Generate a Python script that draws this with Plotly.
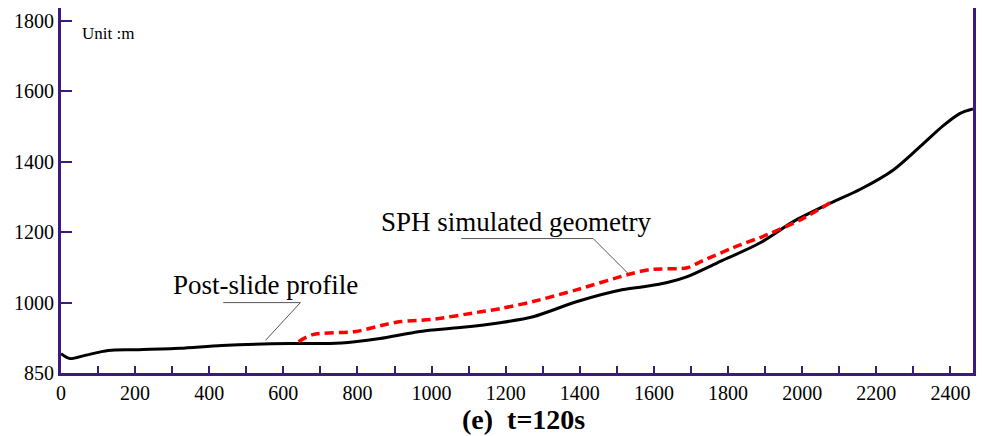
import plotly.graph_objects as go

# Post-slide profile (black solid)
post_x = [0, 24, 65, 127, 200, 321, 434, 618, 726, 793, 861, 969, 1077, 1185, 1274, 1393,
          1517, 1571, 1636, 1690, 1771, 1887, 1976, 2067, 2157, 2246, 2318, 2380, 2425, 2461]
post_y = [855, 841, 850, 864, 866, 870, 878, 884, 884, 889, 898, 918, 929, 943, 960, 1003,
          1037, 1045, 1057, 1074, 1113, 1170, 1230, 1278, 1322, 1377, 1443, 1502, 1537, 1550]

# SPH simulated geometry (red dashed)
sph_x = [641, 679, 795, 876, 917, 998, 1133, 1185, 1274, 1393, 1528, 1590, 1690, 1725, 1814, 1906, 1995, 2076]
sph_y = [889, 909, 918, 938, 946, 952, 974, 983, 1003, 1037, 1079, 1094, 1099, 1116, 1156, 1193, 1235, 1284]

x_tickvals = [0, 200, 400, 600, 800, 1000, 1200, 1400, 1600, 1800, 2000, 2200, 2400]
y_tickvals = [800, 1000, 1200, 1400, 1600, 1800]
y_ticktext = ["850", "1000", "1200", "1400", "1600", "1800"]

AX = "#3b1a84"
FONT = "Liberation Serif"

fig = go.Figure()
fig.add_trace(go.Scatter(x=post_x, y=post_y, mode="lines", line=dict(color="black", width=3, shape="spline", smoothing=0.8),
                         showlegend=False, hoverinfo="skip"))
fig.add_trace(go.Scatter(x=sph_x, y=sph_y, mode="lines",
                         line=dict(color="#ff0000", width=3.5, dash="9px,5px", shape="spline", smoothing=0.8),
                         showlegend=False, hoverinfo="skip"))

# leader lines for labels
fig.add_shape(type="path", path="M 438,1000 L 646,1000 L 552,893", line=dict(color="#555555", width=1))
fig.add_shape(type="path", path="M 1080,1182 L 1436,1182 L 1531,1082", line=dict(color="#555555", width=1))

fig.add_annotation(x=552, y=1049, text="Post-slide profile", showarrow=False,
                   font=dict(family=FONT, size=27, color="black"))
fig.add_annotation(x=1228, y=1229, text="SPH simulated geometry", showarrow=False,
                   font=dict(family=FONT, size=27, color="black"))
fig.add_annotation(xref="paper", yref="paper", x=0.021, y=0.93, xanchor="left", yanchor="middle",
                   text="Unit :m", showarrow=False, font=dict(family=FONT, size=17, color="black"))
fig.add_annotation(xref="paper", yref="paper", x=0.5066, y=-0.128, xanchor="center", yanchor="middle",
                   text="<b>(e)  t=120s</b>", showarrow=False, font=dict(family=FONT, size=28, color="black"))

fig.update_layout(
    width=982, height=436,
    margin=dict(l=61, r=9, t=8, b=63, autoexpand=False),
    paper_bgcolor="white", plot_bgcolor="white",
    font=dict(family=FONT, size=20, color="black"),
)
fig.update_xaxes(range=[0, 2461], tickvals=x_tickvals, ticks="inside", ticklen=7, tickwidth=1.5,
                 tickcolor=AX, showline=True, linecolor=AX, linewidth=3, showgrid=False, zeroline=False,
                 automargin=False,
                 minor=dict(dtick=100, tick0=0, ticks="inside", ticklen=7, tickwidth=1.5, tickcolor=AX, showgrid=False),
                 tickfont=dict(family=FONT, size=20))
fig.update_yaxes(range=[800, 1837], tickvals=y_tickvals, ticktext=y_ticktext, ticks="inside", ticklen=11,
                 tickwidth=1.5, tickcolor=AX, showline=True, linecolor=AX, linewidth=3, mirror=True,
                 automargin=False,
                 showgrid=False, zeroline=False, tickfont=dict(family=FONT, size=20))

fig.write_html("out.html", config={"displayModeBar": False},
               post_script="document.body.style.margin='0';document.body.style.overflow='hidden';")
